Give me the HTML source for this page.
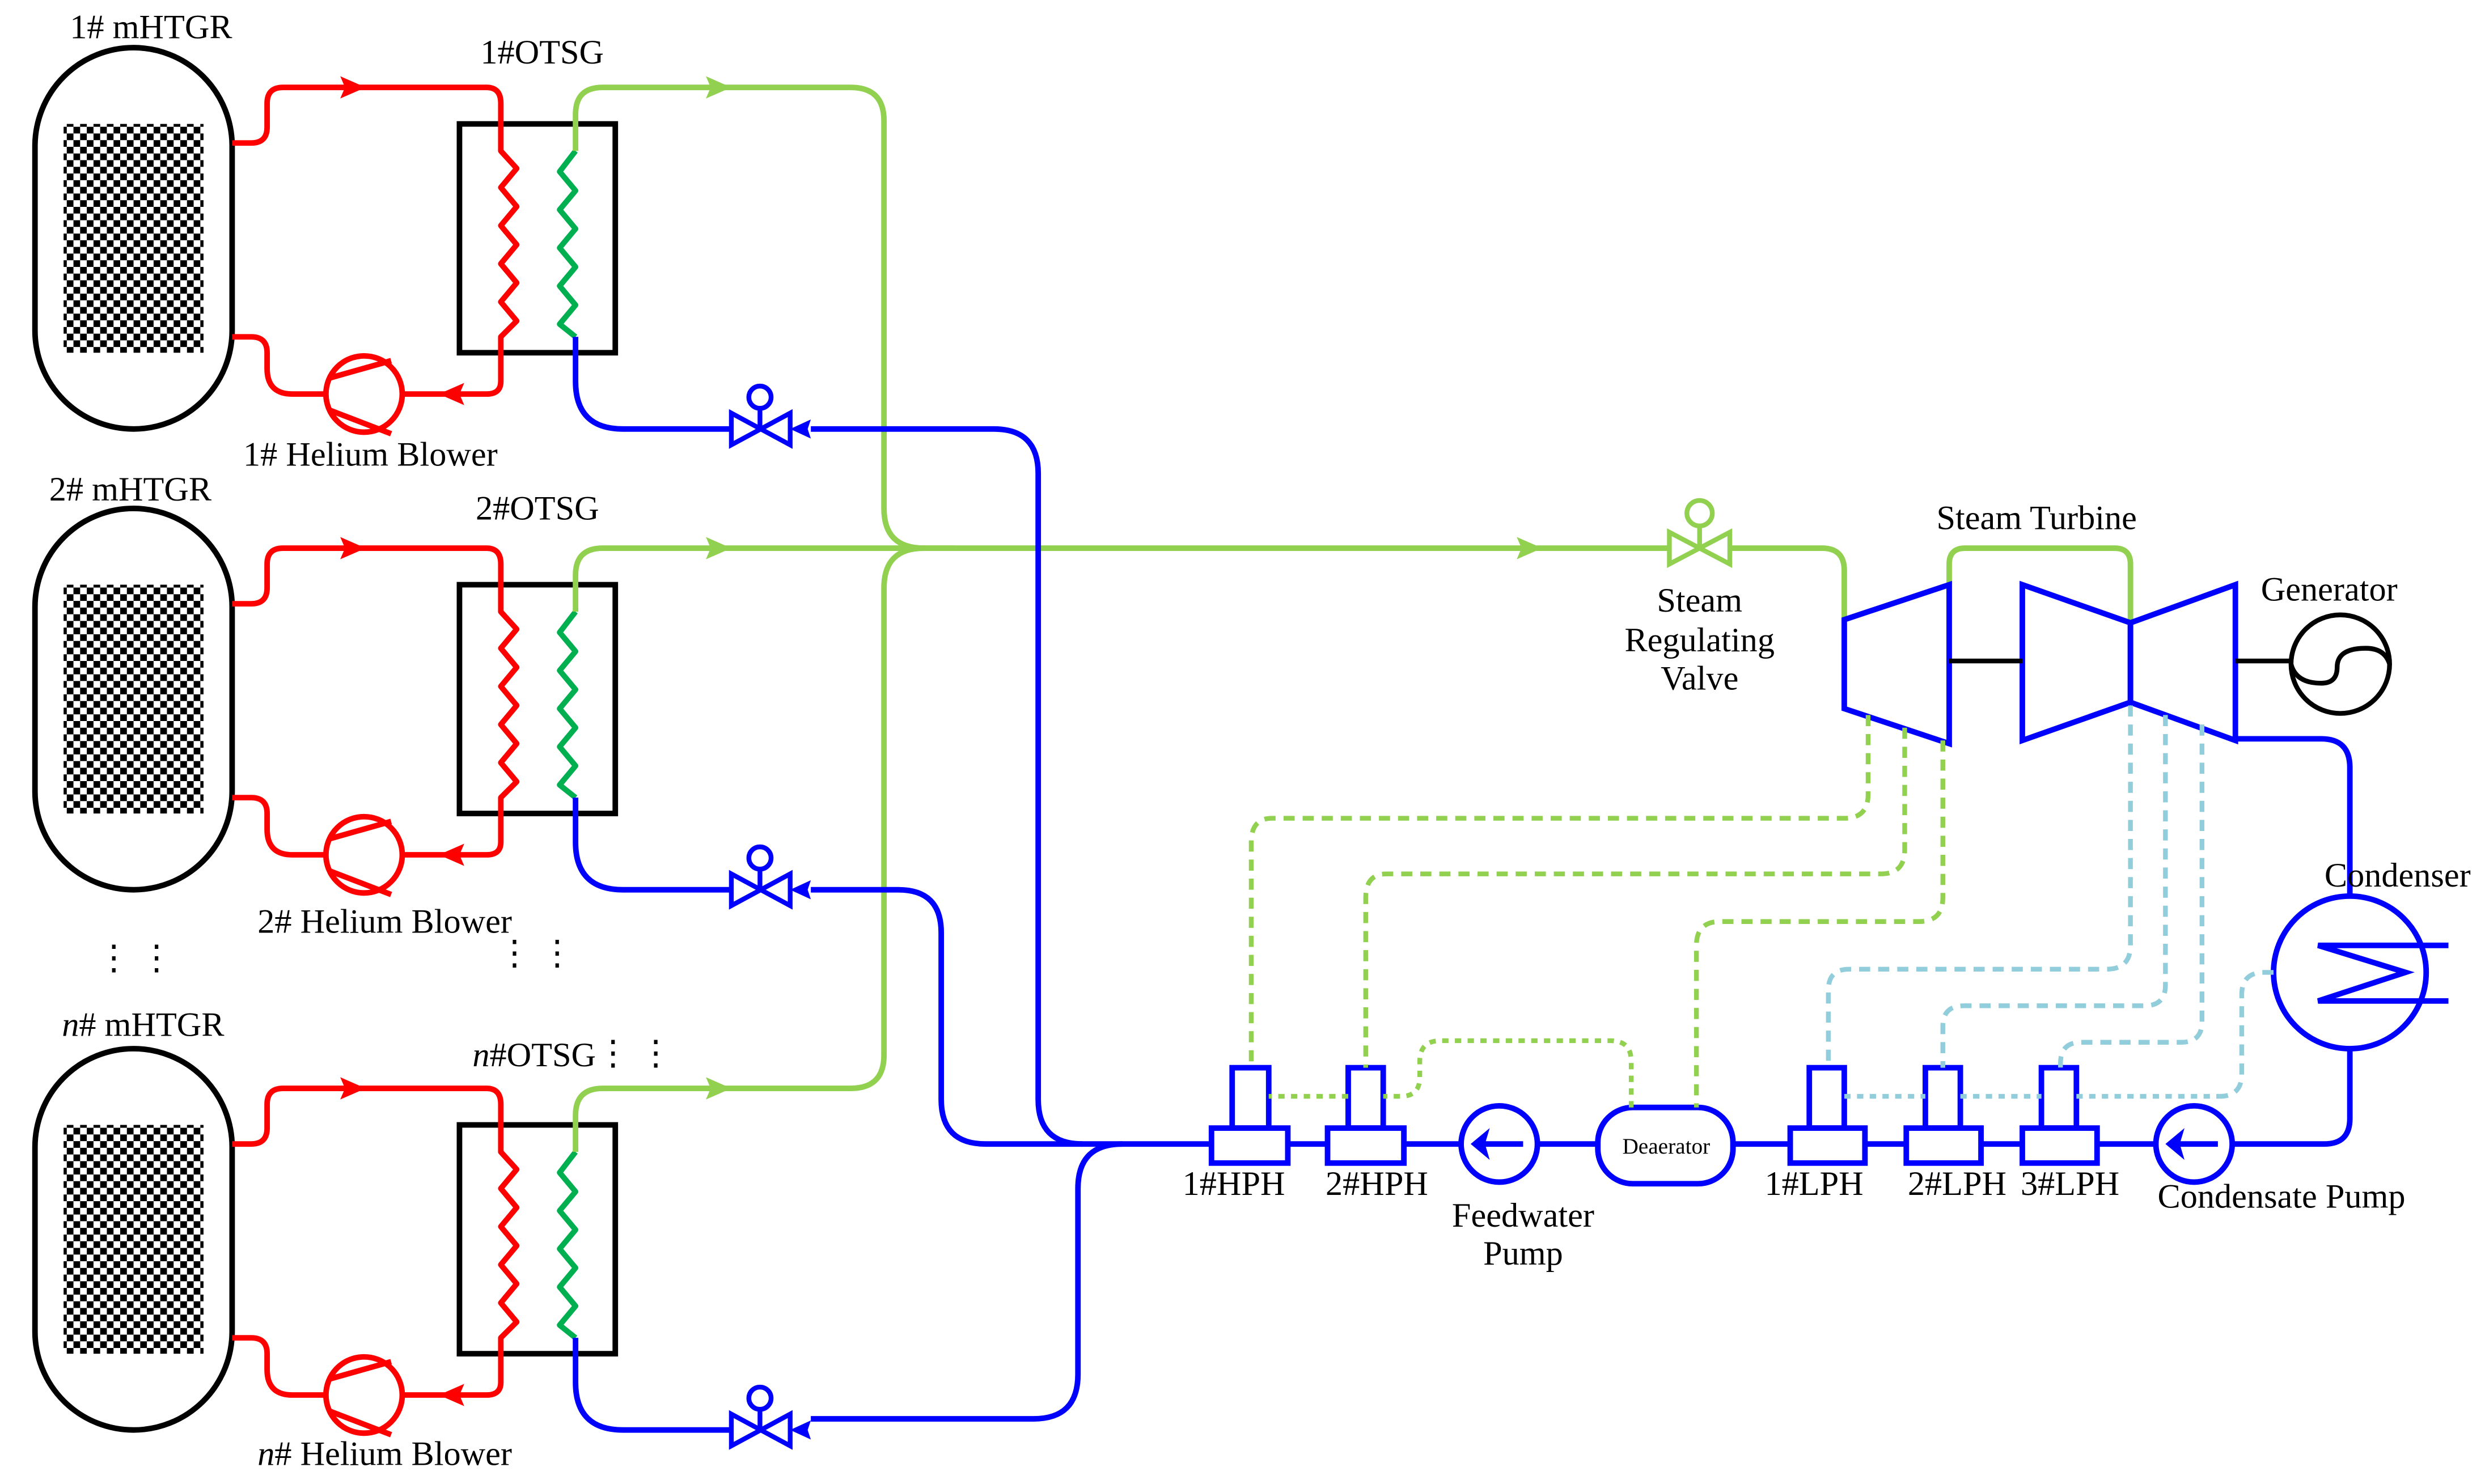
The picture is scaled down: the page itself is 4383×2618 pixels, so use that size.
<!DOCTYPE html>
<html><head><meta charset="utf-8"><style>
html,body{margin:0;padding:0;background:#fff;}
svg{display:block;}
text{font-family:"Liberation Serif",serif;font-size:21.5px;fill:#000;}
</style></head><body>
<svg width="4383" height="2618" viewBox="0 0 1563 934" preserveAspectRatio="none" xmlns="http://www.w3.org/2000/svg">
<defs>
<pattern id="chk" width="8.4" height="8.4" patternUnits="userSpaceOnUse">
<rect width="8.4" height="8.4" fill="#fff"/>
<rect width="4.2" height="4.2" fill="#000"/><rect x="4.2" y="4.2" width="4.2" height="4.2" fill="#000"/>
</pattern>
<g id="loop">
<rect x="22" y="30" width="124" height="240" rx="62" ry="62" fill="none" stroke="#000" stroke-width="3.5"/>
<rect x="40" y="78" width="88" height="144" fill="url(#chk)"/>
<rect x="289" y="78" width="98" height="144" fill="none" stroke="#000" stroke-width="3.5"/>
<path d="M146,90 H158 Q168,90 168,80 V65 Q168,55 178,55 H306 Q315,55 315,65 V95 L325,106 L315,118 L325,130 L315,142 L325,154 L315,166 L325,178 L315,190 L325,202 L315,212 V240 Q315,248 306,248 H253 M205,248 H184 Q168,248 168,232 V222 Q168,212 158,212 H146" fill="none" stroke="#f00" stroke-width="3.5" stroke-linejoin="round"/>
<ellipse cx="229" cy="248" rx="24" ry="24" fill="none" stroke="#f00" stroke-width="3.5"/>
<path d="M207,238 L246,227 M207,258 L246,273" stroke="#f00" stroke-width="3.5"/>
<path d="M230,55 L214,48 L217,55 L214,62 Z" fill="#f00"/>
<path d="M276,248 L292,241 L289,248 L292,255 Z" fill="#f00"/>
<path d="M362,95 L352,108 L362,120 L352,132 L362,144 L352,156 L362,168 L352,180 L362,192 L352,204 L362,212" fill="none" stroke="#00b050" stroke-width="3.5" stroke-linejoin="round"/>
<path d="M362,212 V240 Q362,270 392,270 H460" fill="none" stroke="#00f" stroke-width="3.5"/>
<path d="M460,260 L497,280 L497,260 L460,280 Z" fill="none" stroke="#00f" stroke-width="3"/>
<line x1="478" y1="270" x2="478" y2="257" stroke="#00f" stroke-width="3"/>
<circle cx="478" cy="250" r="7" fill="none" stroke="#00f" stroke-width="3"/>
<path d="M497,270 L510,264 L508,270 L510,276 Z" fill="#00f"/>
</g>
</defs>

<use href="#loop"/>
<use href="#loop" transform="translate(0,290)"/>
<use href="#loop" transform="translate(0,630)"/>

<g fill="none" stroke="#92d050" stroke-width="3.5">
<path d="M362,95 V72 Q362,55 379,55 H535 Q556,55 556,76 V320 Q556,345 581,345 H1050"/>
<path d="M362,385 V362 Q362,345 379,345 H600"/>
<path d="M362,725 V702 Q362,685 379,685 H535 Q556,685 556,664 V370 Q556,345 581,345"/>
<path d="M1088,345 H1146 Q1160,345 1160,359 V390"/>
<path d="M1226,368 V355 Q1226,345 1236,345 H1330 Q1340,345 1340,355 V392"/>
</g>
<path d="M460,55 L444,48 L447,55 L444,62 Z" fill="#92d050"/>
<path d="M460,345 L444,338 L447,345 L444,352 Z" fill="#92d050"/>
<path d="M460,685 L444,678 L447,685 L444,692 Z" fill="#92d050"/>
<path d="M970,345 L954,338 L957,345 L954,352 Z" fill="#92d050"/>

<path d="M1050,335 L1088,355 L1088,335 L1050,355 Z" fill="none" stroke="#92d050" stroke-width="3"/>
<line x1="1069" y1="345" x2="1069" y2="331" stroke="#92d050" stroke-width="3"/>
<circle cx="1069" cy="323" r="8" fill="none" stroke="#92d050" stroke-width="3"/>

<g fill="none" stroke="#00f" stroke-width="3.5">
<path d="M510,270 H625 Q653,270 653,298 V692 Q653,720 681,720"/>
<path d="M510,560 H565 Q592,560 592,587 V692 Q592,720 620,720 H1005"/>
<path d="M510,893 H650 Q678,893 678,865 V748 Q678,720 706,720"/>
<path d="M1090,720 H1356"/>
<path d="M1404,720 H1462 Q1478,720 1478,704 V660"/>
<path d="M1406,465 H1460 Q1478,465 1478,483 V564"/>
</g>

<g fill="none" stroke="#00f" stroke-width="3.5">
<path d="M1160,390 L1226,368 L1226,468 L1160,446 Z"/>
<path d="M1272,368 L1340,392 L1340,442 L1272,466 Z"/>
<path d="M1340,392 L1406,368 L1406,466 L1340,442 Z"/>
</g>
<line x1="1226" y1="416" x2="1272" y2="416" stroke="#000" stroke-width="3"/>
<line x1="1406" y1="416" x2="1441" y2="416" stroke="#000" stroke-width="3"/>
<circle cx="1472" cy="418" r="31" fill="none" stroke="#000" stroke-width="3"/>
<path d="M1441,418 Q1444,430 1460,430 Q1470,430 1470,420 Q1470,408 1488,408 Q1500,408 1503,418" fill="none" stroke="#000" stroke-width="3"/>

<circle cx="1478" cy="612" r="48" fill="none" stroke="#00f" stroke-width="3.5"/>
<path d="M1540,595 H1458 L1513,612 L1458,630 H1540" fill="none" stroke="#00f" stroke-width="3.5"/>

<circle cx="1380" cy="720" r="24" fill="none" stroke="#00f" stroke-width="3.5"/>
<path d="M1364,720 H1395" stroke="#00f" stroke-width="3.5"/>
<path d="M1362,720 L1374,710 L1371,720 L1374,730 Z" fill="#00f"/>
<circle cx="943" cy="720" r="24" fill="#fff" stroke="#00f" stroke-width="3.5"/>
<path d="M927,720 H958" stroke="#00f" stroke-width="3.5"/>
<path d="M925,720 L937,710 L934,720 L937,730 Z" fill="#00f"/>
<rect x="1005" y="697" width="85" height="48" rx="22" fill="#fff" stroke="#00f" stroke-width="3.5"/>
<text x="1048" y="726" text-anchor="middle" style="font-size:14px">Deaerator</text>

<g fill="#fff" stroke="#00f" stroke-width="3.5">
<rect x="775" y="672" width="23" height="38"/><rect x="762" y="710" width="48" height="22"/>
<rect x="848" y="672" width="22" height="38"/><rect x="835" y="710" width="48" height="22"/>
<rect x="1138" y="672" width="22" height="38"/><rect x="1126" y="710" width="47" height="22"/>
<rect x="1211" y="672" width="22" height="38"/><rect x="1199" y="710" width="47" height="22"/>
<rect x="1284" y="672" width="22" height="38"/><rect x="1272" y="710" width="47" height="22"/>
</g>

<g fill="none" stroke="#92d050" stroke-width="3" stroke-dasharray="7,5">
<path d="M1175,450 V500 Q1175,515 1160,515 H800 Q787,515 787,530 V672"/>
<path d="M1198,458 V535 Q1198,550 1183,550 H872 Q859,550 859,565 V672"/>
<path d="M1222,466 V565 Q1222,580 1207,580 H1082 Q1067,580 1067,595 V697"/>
<path d="M1026,697 V668 Q1026,655 1013,655 H906 Q893,655 893,668 V678 Q893,690 881,690 H870 M848,690 H798" stroke-dasharray="4,4"/>
</g>
<g fill="none" stroke="#92cddc" stroke-width="3" stroke-dasharray="7,5">
<path d="M1340,444 V595 Q1340,610 1325,610 H1163 Q1150,610 1150,623 V672"/>
<path d="M1362,450 V620 Q1362,633 1349,633 H1235 Q1222,633 1222,646 V672"/>
<path d="M1385,456 V643 Q1385,656 1372,656 H1309 Q1296,656 1296,669 V672"/>
<path d="M1430,612 H1424 Q1410,612 1410,626 V676 Q1410,690 1396,690" />
<path d="M1160,690 H1211 M1233,690 H1284 M1306,690 H1396" stroke-dasharray="4,4"/>
</g>

<text x="95" y="24" text-anchor="middle">1# mHTGR</text>
<text x="341" y="40" text-anchor="middle">1#OTSG</text>
<text x="233" y="293" text-anchor="middle">1# Helium Blower</text>
<text x="82" y="315" text-anchor="middle">2# mHTGR</text>
<text x="338" y="327" text-anchor="middle">2#OTSG</text>
<text x="242" y="587" text-anchor="middle">2# Helium Blower</text>
<text x="90" y="652" text-anchor="middle"><tspan font-style="italic">n</tspan># mHTGR</text>
<text x="336" y="671" text-anchor="middle"><tspan font-style="italic">n</tspan>#OTSG</text>
<text x="242" y="922" text-anchor="middle"><tspan font-style="italic">n</tspan># Helium Blower</text>
<text x="85" y="610" text-anchor="middle">⋮ ⋮</text>
<text x="337" y="607" text-anchor="middle">⋮ ⋮</text>
<text x="399" y="670" text-anchor="middle">⋮ ⋮</text>
<text x="1281" y="333" text-anchor="middle">Steam Turbine</text>
<text x="1069" y="385" text-anchor="middle">Steam</text>
<text x="1069" y="410" text-anchor="middle">Regulating</text>
<text x="1069" y="434" text-anchor="middle">Valve</text>
<text x="1465" y="378" text-anchor="middle">Generator</text>
<text x="1508" y="558" text-anchor="middle">Condenser</text>
<text x="776" y="752" text-anchor="middle">1#HPH</text>
<text x="866" y="752" text-anchor="middle">2#HPH</text>
<text x="958" y="772" text-anchor="middle">Feedwater</text>
<text x="958" y="796" text-anchor="middle">Pump</text>
<text x="1141" y="752" text-anchor="middle">1#LPH</text>
<text x="1231" y="752" text-anchor="middle">2#LPH</text>
<text x="1302" y="752" text-anchor="middle">3#LPH</text>
<text x="1435" y="760" text-anchor="middle">Condensate Pump</text>
</svg>
</body></html>
